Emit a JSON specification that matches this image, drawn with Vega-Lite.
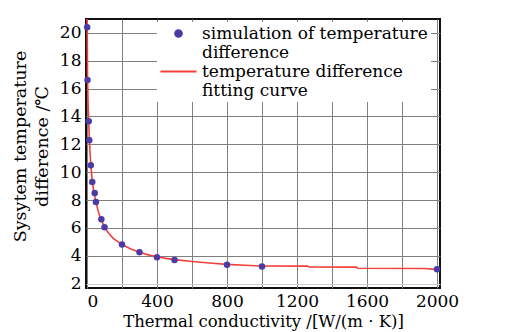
{
  "$schema": "https://vega.github.io/schema/vega-lite/v6.json",
  "width": 354,
  "height": 269,
  "autosize": {"type": "none"},
  "padding": {"left": 86, "top": 19, "right": 86, "bottom": 44},
  "background": "white",
  "config": {
    "font": "DejaVu Serif",
    "view": {"stroke": "#111", "strokeWidth": 2},
    "axis": {
      "labelColor": "black",
      "titleColor": "black",
      "labelFont": "DejaVu Serif",
      "titleFont": "DejaVu Serif",
      "titleFontWeight": "normal",
      "ticks": false,
      "tickSize": 0,
      "domain": false,
      "grid": true,
      "gridColor": "#808080",
      "gridWidth": 1,
      "gridOpacity": 1,
      "labelOverlap": false,
      "tickCount": 40
    }
  },
  "datasets": {
    "points": [
      {"x": 1, "y": 20.41, "series": "sim1"},
      {"x": 3, "y": 16.62, "series": "sim1"},
      {"x": 10, "y": 13.66, "series": "sim1"},
      {"x": 13, "y": 12.3, "series": "sim1"},
      {"x": 22, "y": 10.5, "series": "sim1"},
      {"x": 30, "y": 9.3, "series": "sim1"},
      {"x": 44, "y": 8.5, "series": "sim1"},
      {"x": 51, "y": 7.85, "series": "sim1"},
      {"x": 82, "y": 6.61, "series": "sim1"},
      {"x": 100, "y": 6.05, "series": "sim1"},
      {"x": 200, "y": 4.81, "series": "sim1"},
      {"x": 300, "y": 4.25, "series": "sim1"},
      {"x": 400, "y": 3.89, "series": "sim1"},
      {"x": 500, "y": 3.69, "series": "sim1"},
      {"x": 800, "y": 3.35, "series": "sim1"},
      {"x": 1000, "y": 3.23, "series": "sim1"},
      {"x": 2000, "y": 3.03, "series": "sim1"}
    ],
    "curve": [
      {"x": 0.3, "y": 21.0, "series": "fit1"},
      {"x": 1, "y": 20.3, "series": "fit1"},
      {"x": 3, "y": 16.9, "series": "fit1"},
      {"x": 6, "y": 15.0, "series": "fit1"},
      {"x": 10, "y": 13.6, "series": "fit1"},
      {"x": 13, "y": 12.5, "series": "fit1"},
      {"x": 17, "y": 11.5, "series": "fit1"},
      {"x": 22, "y": 10.5, "series": "fit1"},
      {"x": 30, "y": 9.35, "series": "fit1"},
      {"x": 37, "y": 8.75, "series": "fit1"},
      {"x": 44, "y": 8.3, "series": "fit1"},
      {"x": 51, "y": 7.9, "series": "fit1"},
      {"x": 60, "y": 7.4, "series": "fit1"},
      {"x": 70, "y": 6.95, "series": "fit1"},
      {"x": 82, "y": 6.55, "series": "fit1"},
      {"x": 100, "y": 6.05, "series": "fit1"},
      {"x": 125, "y": 5.6, "series": "fit1"},
      {"x": 150, "y": 5.25, "series": "fit1"},
      {"x": 200, "y": 4.8, "series": "fit1"},
      {"x": 250, "y": 4.48, "series": "fit1"},
      {"x": 300, "y": 4.24, "series": "fit1"},
      {"x": 350, "y": 4.06, "series": "fit1"},
      {"x": 400, "y": 3.92, "series": "fit1"},
      {"x": 450, "y": 3.81, "series": "fit1"},
      {"x": 500, "y": 3.72, "series": "fit1"},
      {"x": 600, "y": 3.58, "series": "fit1"},
      {"x": 700, "y": 3.47, "series": "fit1"},
      {"x": 800, "y": 3.38, "series": "fit1"},
      {"x": 900, "y": 3.31, "series": "fit1"},
      {"x": 1000, "y": 3.26, "series": "fit1"},
      {"x": 1260, "y": 3.25, "series": "fit1"},
      {"x": 1270, "y": 3.19, "series": "fit1"},
      {"x": 1540, "y": 3.18, "series": "fit1"},
      {"x": 1545, "y": 3.1, "series": "fit1"},
      {"x": 1930, "y": 3.08, "series": "fit1"},
      {"x": 1990, "y": 3.02, "series": "fit1"},
      {"x": 2005, "y": 3.0, "series": "fit1"}
    ]
  },
  "layer": [
    {
      "data": {"name": "curve"},
      "mark": {"type": "line", "strokeWidth": 1.6, "clip": true},
      "encoding": {
        "x": {
          "field": "x", "type": "quantitative",
          "scale": {"domain": [-5.7, 2017], "nice": false, "zero": false},
          "axis": {
            "values": [0, 200, 400, 600, 800, 1000, 1200, 1400, 1600, 1800, 2000],
            "format": "d",
            "labelExpr": "datum.value % 400 === 0 ? datum.label : ''",
            "labelFontSize": 17,
            "labelPadding": 5,
            "title": "Thermal conductivity /[W/(m · K)]",
            "titleFontSize": 16.5,
            "titlePadding": 4
          }
        },
        "y": {
          "field": "y", "type": "quantitative",
          "scale": {"domain": [1.68, 21.0], "nice": false, "zero": false},
          "axis": {
            "values": [2, 4, 6, 8, 10, 12, 14, 16, 18, 20],
            "format": "d",
            "labelFontSize": 17,
            "labelPadding": 5,
            "gridColor": {"condition": {"test": "datum.value === 2", "value": "#cccccc"}, "value": "#808080"},
            "title": ["Sysytem temperature", "difference /℃"],
            "titleFontSize": 17.5,
            "titleLineHeight": 22,
            "titleX": -66,
            "titleY": 127,
            "titleBaseline": "middle"
          }
        },
        "color": {
          "field": "series", "type": "nominal",
          "scale": {"domain": ["sim1", "sim2", "fit1", "fit2"], "range": ["#4b3ba6", "#ffffff", "#f2403a", "#ffffff"]},
          "legend": {
            "orient": "none",
            "legendX": 71,
            "legendY": 3,
            "title": null,
            "fillColor": "white",
            "padding": 3,
            "labelFont": "DejaVu Serif",
            "labelFontSize": 17,
            "labelColor": "black",
            "labelLimit": 400,
            "labelOffset": 15,
            "symbolOffset": 10,
            "rowPadding": 1,
            "labelExpr": "datum.value === 'sim1' ? 'simulation of temperature' : datum.value === 'sim2' ? 'difference' : datum.value === 'fit1' ? 'temperature difference' : 'fitting curve'",
            "encode": {
              "symbols": {
                "update": {
                  "shape": {"signal": "datum.value === 'fit1' ? 'stroke' : 'circle'"},
                  "size": {"signal": "datum.value === 'sim1' ? 45 : datum.value === 'fit1' ? 1300 : 0"},
                  "fill": {"signal": "datum.value === 'sim1' ? '#4b3ba6' : 'transparent'"},
                  "stroke": {"signal": "datum.value === 'fit1' ? '#f2403a' : 'transparent'"},
                  "strokeWidth": {"value": 2},
                  "opacity": {"value": 1}
                }
              }
            }
          }
        }
      }
    },
    {
      "data": {"name": "points"},
      "mark": {"type": "point", "filled": true, "size": 42, "opacity": 1},
      "encoding": {
        "x": {"field": "x", "type": "quantitative"},
        "y": {"field": "y", "type": "quantitative"},
        "color": {"field": "series", "type": "nominal"}
      }
    }
  ]
}
